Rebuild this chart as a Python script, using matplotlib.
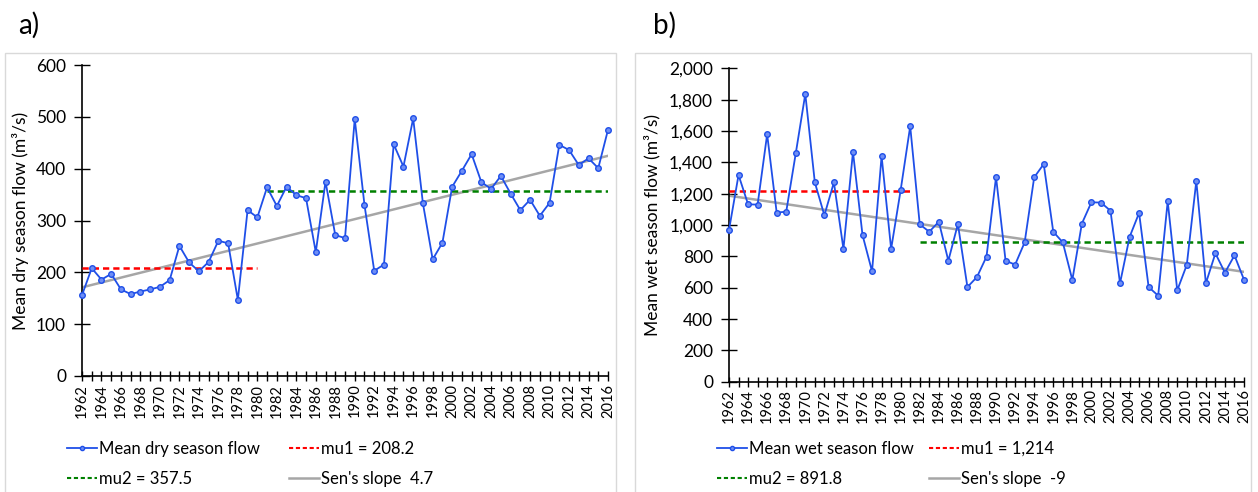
import numpy as np
import matplotlib
matplotlib.use("Agg")
import matplotlib.pyplot as plt
from matplotlib.patches import Rectangle
from matplotlib.lines import Line2D
from matplotlib.ticker import FixedLocator, FixedFormatter, StrMethodFormatter

plt.rcParams['font.family'] = ['Lato', 'DejaVu Sans']

years = list(range(1962, 2017))

# a) mean dry season flow (m3/s)
dry_flow = [156, 208, 186, 197, 167, 158, 163, 167, 172, 185,
            251, 219, 202, 220, 261, 256, 147, 320, 306, 364,
            328, 365, 349, 343, 239, 375, 272, 266, 496, 330,
            203, 215, 447, 404, 497, 333, 225, 257, 365, 396,
            428, 374, 361, 386, 352, 320, 340, 309, 334, 446,
            436, 407, 420, 401, 475]
dry_mu1, dry_mu2 = 208.2, 357.5
dry_period1 = (1962, 1980)
dry_period2 = (1981, 2016)
dry_sen_slope, dry_sen_start = 4.7, 171

# b) mean wet season flow (m3/s)
wet_flow = [968, 1319, 1132, 1130, 1579, 1079, 1085, 1457, 1836, 1272,
            1062, 1272, 847, 1466, 936, 704, 1440, 847, 1223, 1630,
            1004, 957, 1021, 772, 1006, 604, 668, 798, 1306, 772,
            747, 889, 1304, 1389, 957, 889, 649, 1009, 1145, 1143,
            1091, 628, 923, 1077, 604, 549, 1151, 583, 745, 1281,
            628, 819, 696, 806, 651]
wet_mu1, wet_mu2 = 1214, 891.8
wet_period1 = (1962, 1981)
wet_period2 = (1982, 2016)
wet_sen_slope, wet_sen_start = -9, 1187

W, H = 1258, 492
fig = plt.figure(figsize=(W / 100, H / 100), dpi=100)

# chart area borders
for x0, x1 in [(5, 616), (635, 1251)]:
    fig.add_artist(Rectangle((x0 / W, -0.05), (x1 - x0) / W, 1 - 53 / H + 0.05,
                             transform=fig.transFigure, fill=False,
                             edgecolor='#D9D9D9', lw=1))


def draw_panel(rect, flow, mu1, mu2, p1, p2, slope, start, ymax, ystep,
               name, mu1_txt, mu2_txt, sen_txt, letter, letter_x, legend_x, colsp, ylabpad):
    l, r, b, t = rect
    ax = fig.add_axes([l / W, 1 - b / H, (r - l) / W, (b - t) / H])
    yrs = np.array(years)
    ax.plot(yrs, flow, color='#1F4FE8', lw=1.3, marker='o', ms=4,
            mfc='#6E8EF5', mec='#1F4FE8', mew=1, clip_on=False, zorder=4)
    ax.plot(p1, [mu1, mu1], color='#FF0000', lw=1.8, ls=(0, (2.5, 1.6)), zorder=3)
    ax.plot(p2, [mu2, mu2], color='#008000', lw=1.8, ls=(0, (2.5, 1.6)), zorder=3)
    ends = np.array([years[0], years[-1]])
    ax.plot(ends, start + slope * (ends - years[0]), color='#A6A6A6', lw=1.8, zorder=2)

    ax.set_xlim(years[0], years[-1])
    ax.set_ylim(0, ymax)
    ax.xaxis.set_major_locator(FixedLocator(years))
    ax.xaxis.set_major_formatter(FixedFormatter([str(y) if (y - years[0]) % 2 == 0 else '' for y in years]))
    ax.set_yticks(np.arange(0, ymax + 1, ystep))
    ax.yaxis.set_major_formatter(StrMethodFormatter('{x:,.0f}'))
    ax.tick_params(axis='x', direction='inout', length=7, width=1, labelsize=10.5,
                   labelrotation=90, pad=2, colors='black')
    ax.tick_params(axis='y', direction='inout', length=11, width=1, labelsize=12.5, pad=6)
    for s in ['top', 'right']:
        ax.spines[s].set_visible(False)
    for s in ['left', 'bottom']:
        ax.spines[s].set_linewidth(1.2)
    ax.set_ylabel(name + ' (m³/s)', fontsize=12.5, labelpad=ylabpad)

    h_main = Line2D([], [], color='#1F4FE8', lw=1.3, marker='o', ms=3,
                    mfc='#6E8EF5', mec='#1F4FE8')
    h_mu1 = Line2D([], [], color='#FF0000', lw=1.5, ls=(0, (2, 1.3)))
    h_mu2 = Line2D([], [], color='#008000', lw=1.5, ls=(0, (2, 1.3)))
    h_sen = Line2D([], [], color='#A6A6A6', lw=1.8)
    fig.legend([h_main, h_mu2, h_mu1, h_sen], [name, mu2_txt, mu1_txt, sen_txt],
               ncol=2, loc='upper left', bbox_to_anchor=(legend_x / W, 1 - 441 / H),
               frameon=False, fontsize=12, handlelength=1.8, handletextpad=0.12,
               columnspacing=colsp, labelspacing=0.85, borderaxespad=0, borderpad=0)
    fig.text(letter_x / W, 1 - 12 / H, letter, fontsize=20, va='top', ha='left')
    return ax


draw_panel((82, 608, 376, 65), dry_flow, dry_mu1, dry_mu2, dry_period1, dry_period2,
           dry_sen_slope, dry_sen_start, 600, 100, 'Mean dry season flow',
           'mu1 = 208.2', 'mu2 = 357.5', "Sen's slope  4.7", 'a)', 18, 67, 1.75, 5)
draw_panel((729, 1244, 381.7, 68.3), wet_flow, wet_mu1, wet_mu2, wet_period1, wet_period2,
           wet_sen_slope, wet_sen_start, 2000, 200, 'Mean wet season flow',
           'mu1 = 1,214', 'mu2 = 891.8', "Sen's slope  -9", 'b)', 653, 717, 0.9, 6)

fig.savefig('out.png', dpi=100)
